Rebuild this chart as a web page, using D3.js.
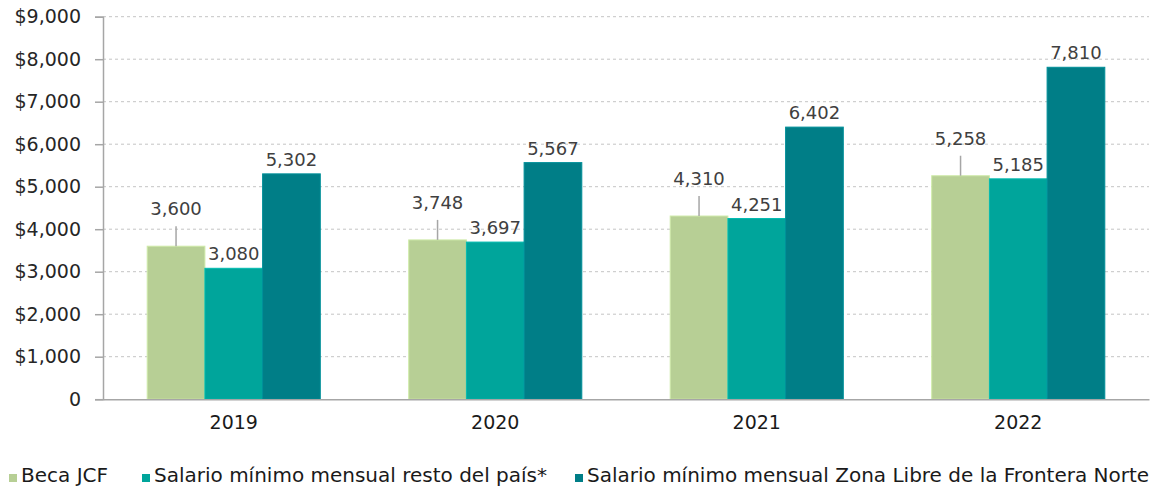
<!DOCTYPE html>
<html><head><meta charset="utf-8">
<script src="https://cdn.jsdelivr.net/npm/d3@7"></script>
<style>
html,body{margin:0;padding:0;background:#fff;}
svg{display:block;font-family:"DejaVu Sans", sans-serif;}
</style></head>
<body>
<svg id="chart" width="1156" height="488"></svg>
<script>
const categories = ["2019", "2020", "2021", "2022"];
const seriesNames = ["Beca JCF", "Salario mínimo mensual resto del país*", "Salario mínimo mensual Zona Libre de la Frontera Norte"];
const becaJCF = [3600, 3748, 4310, 5258];
const salarioResto = [3080, 3697, 4251, 5185];
const salarioZLFN = [5302, 5567, 6402, 7810];
const yTicks = [0, 1000, 2000, 3000, 4000, 5000, 6000, 7000, 8000, 9000];
const colors = ["#b7cf95", "#00a59b", "#007e87"];

const series = [becaJCF, salarioResto, salarioZLFN];
const svg = d3.select("#chart");
const m = {left: 103, right: 1149, top: 16.7, bottom: 399.2};
const FONT = "DejaVu Sans";

const y = d3.scaleLinear().domain([0, 9000]).range([m.bottom, m.top]);
const x0 = d3.scaleBand().domain(categories).range([m.left, m.right]).padding(0);
const x1 = d3.scaleBand().domain(d3.range(3)).range([0, x0.bandwidth()]).paddingInner(0).paddingOuter(0.766);

// gridlines
svg.append("g").selectAll("line").data(yTicks.filter(d => d > 0)).join("line")
  .attr("x1", m.left).attr("x2", m.right)
  .attr("y1", d => y(d)).attr("y2", d => y(d))
  .attr("stroke", "#c4c4c4").attr("stroke-width", 1).attr("stroke-dasharray", "3,3");

// bars
const g = svg.append("g");
categories.forEach((c, i) => {
  series.forEach((s, k) => {
    g.append("rect")
      .attr("x", x0(c) + x1(k))
      .attr("y", y(s[i]))
      .attr("width", x1.bandwidth())
      .attr("height", y(0) - y(s[i]))
      .attr("fill", colors[k])
      .attr("stroke", d3.color(colors[k]).brighter(0.35))
      .attr("stroke-width", 1);
  });
});

// y axis
const yAxis = d3.axisLeft(y).tickValues(yTicks).tickSize(8).tickPadding(14)
  .tickFormat(d => d === 0 ? "0" : "$" + d3.format(",")(d));
const ya = svg.append("g").attr("transform", `translate(${m.left},0)`).call(yAxis);
ya.select(".domain").attr("stroke", "#a6a6a6").attr("stroke-width", 1.5);
ya.selectAll(".tick line").attr("stroke", "#a6a6a6").attr("stroke-width", 1.5);
ya.selectAll(".tick text").attr("font-size", 19).attr("fill", "#262626").attr("font-family", FONT);

// x axis
const xAxis = d3.axisBottom(x0).tickSize(0).tickPadding(16);
const xa = svg.append("g").attr("transform", `translate(0,${m.bottom})`).call(xAxis);
xa.select(".domain").attr("stroke", "#a6a6a6").attr("stroke-width", 1.5);
xa.selectAll(".tick text").attr("font-size", 19).attr("fill", "#1a1a1a").attr("font-family", FONT);

// data labels
const fmt = d3.format(",");
const lab = svg.append("g").attr("font-size", 18).attr("fill", "#404040").attr("text-anchor", "middle");
categories.forEach((c, i) => {
  series.forEach((s, k) => {
    const cx = x0(c) + x1(k) + x1.bandwidth() / 2;
    const top = y(s[i]);
    if (k === 0) {
      const base = top - 31;
      svg.append("line").attr("x1", cx).attr("x2", cx)
        .attr("y1", base + 11).attr("y2", top)
        .attr("stroke", "#a6a6a6").attr("stroke-width", 1.5);
      lab.append("text").attr("x", cx).attr("y", base).text(fmt(s[i]));
    } else {
      lab.append("text").attr("x", cx).attr("y", top - 8).text(fmt(s[i]));
    }
  });
});

// legend
const legendX = [9, 142, 575];
const leg = svg.append("g");
seriesNames.forEach((n, k) => {
  leg.append("rect").attr("x", legendX[k]).attr("y", 474).attr("width", 8).attr("height", 8).attr("fill", colors[k]);
  leg.append("text").attr("x", legendX[k] + 12).attr("y", 482).attr("font-size", 20).attr("fill", "#1a1a1a").text(n);
});
</script>
</body></html>
